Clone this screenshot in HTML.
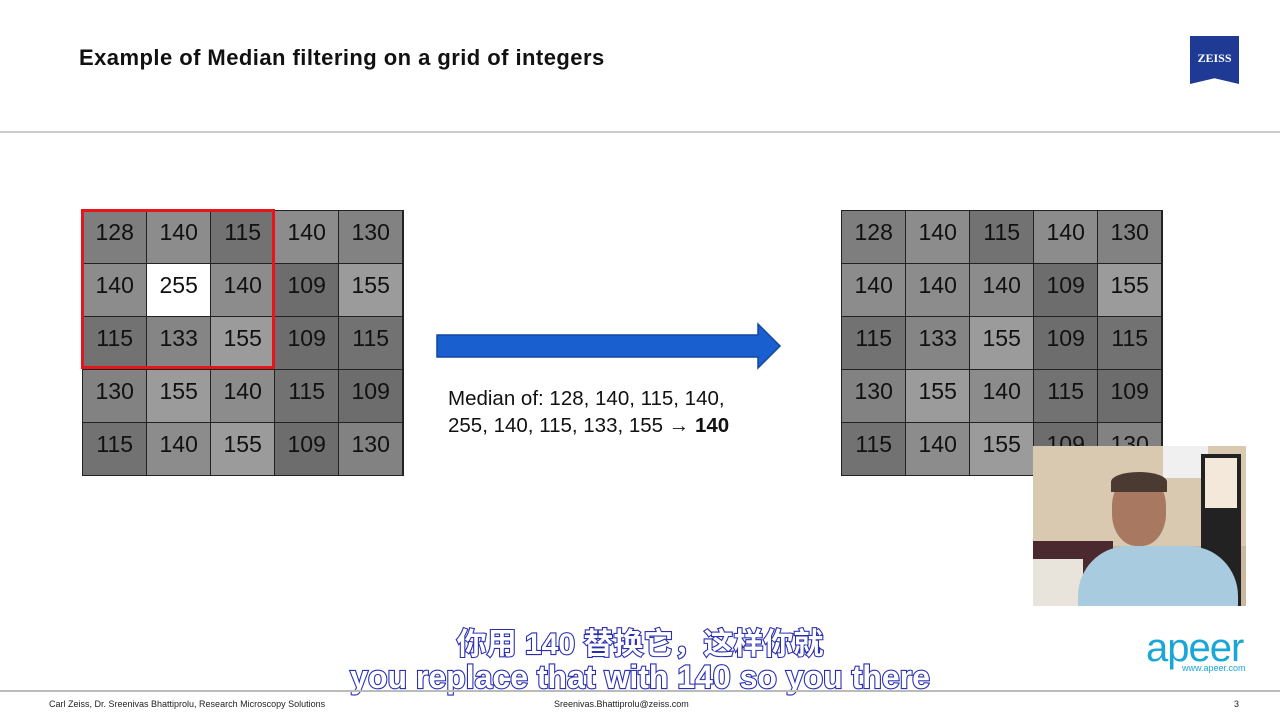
<!DOCTYPE html>
<html><head><meta charset="utf-8"><style>
body{margin:0;width:1280px;height:720px;background:#fff;position:relative;overflow:hidden;font-family:"Liberation Sans",sans-serif}
.a{position:absolute}
.g{position:absolute;width:322px;height:266px;background:#222;border:1px solid #222;box-sizing:border-box}
.g div{position:absolute;width:63.4px;height:52.2px;display:flex;align-items:center;justify-content:center;font-size:23px;color:#111;padding-bottom:10px;box-sizing:border-box}
.sub{position:absolute;left:0;width:1280px;text-align:center;color:#fff;font-weight:bold;font-family:"Liberation Sans","Noto Sans CJK SC",sans-serif;-webkit-text-stroke:2.2px #2a2fb0;paint-order:stroke fill}
</style></head><body>
<div class="a" style="left:79px;top:45px;font-size:22px;font-weight:bold;color:#111;letter-spacing:0.45px">Example of Median filtering on a grid of integers</div>
<div class="a" style="left:1190px;top:36px;width:49px;height:48px;background:#1e3a95;clip-path:polygon(0 0,100% 0,100% 100%,50% 88%,0 100%)"></div>
<div class="a" style="left:1190px;top:51px;width:49px;text-align:center;color:#fff;font-weight:bold;font-size:12px;font-family:'Liberation Serif',serif">ZEISS</div>
<div class="a" style="left:0;top:131px;width:1280px;height:2px;background:#ccc"></div>

<div id="g1" class="g" style="left:82px;top:210px"></div>
<div class="a" style="left:81px;top:209px;width:188px;height:154px;border:3px solid #e8141b"></div>
<div id="g2" class="g" style="left:841px;top:210px"></div>
<script>
const cols={109:'#6d6d6d',115:'#727272',128:'#7e7e7e',130:'#828282',133:'#858585',140:'#8c8c8c',155:'#9b9b9b',255:'#ffffff'};
const a=[[128,140,115,140,130],[140,255,140,109,155],[115,133,155,109,115],[130,155,140,115,109],[115,140,155,109,130]];
function fill(id,d){const g=document.getElementById(id);let h='';for(let r=0;r<5;r++)for(let c=0;c<5;c++){h+=`<div style="left:${c*64}px;top:${r*53}px;background:${cols[d[r][c]]}">${d[r][c]}</div>`;}g.innerHTML=h;}
fill('g1',a);const b=a.map(r=>r.slice());b[1][1]=140;fill('g2',b);
</script>

<svg class="a" style="left:436px;top:322px" width="346" height="48"><polygon points="1,13 322,13 322,2 344,24 322,46 322,35 1,35" fill="#1a5fd0" stroke="#1446a0" stroke-width="1.5"/></svg>
<div class="a" style="left:448px;top:385px;font-size:20.5px;line-height:27px;color:#111">Median of: 128, 140, 115, 140,<br>255, 140, 115, 133, 155 &#8594; <b>140</b></div>

<div class="a" style="left:1033px;top:446px;width:213px;height:160px;background:#c9b9a0;overflow:hidden">
<div class="a" style="left:0;top:0;width:213px;height:100px;background:#d8c9b0"></div>
<div class="a" style="left:130px;top:0;width:45px;height:32px;background:#f0f0f0"></div>
<div class="a" style="left:168px;top:8px;width:40px;height:152px;background:#222"></div>
<div class="a" style="left:172px;top:12px;width:32px;height:50px;background:#f3e8da"></div>
<div class="a" style="left:0;top:95px;width:80px;height:65px;background:#4a2a2e"></div>
<div class="a" style="left:0;top:113px;width:50px;height:47px;background:#e8e4dc"></div>
<div class="a" style="left:45px;top:100px;width:160px;height:60px;background:#a9cbe0;border-radius:50px 50px 0 0"></div>
<div class="a" style="left:79px;top:28px;width:54px;height:72px;background:#a87860;border-radius:45%"></div>
<div class="a" style="left:78px;top:26px;width:56px;height:20px;background:#4a3a32;border-radius:50% 50% 0 0"></div>
</div>

<div class="sub" style="top:619px;font-size:30px">你用 140 替换它，这样你就</div>
<div class="sub" style="top:659px;font-size:32px">you replace that with 140 so you there</div>

<div class="a" style="left:1146px;top:626px;font-size:40px;color:#1aa6d6;letter-spacing:-1px">apeer</div>
<div class="a" style="left:1182px;top:663px;font-size:9px;color:#1aa6d6">www.apeer.com</div>

<div class="a" style="left:0;top:690px;width:1280px;height:2px;background:#bbb"></div>
<div class="a" style="left:49px;top:699px;font-size:9px;color:#222">Carl Zeiss, Dr. Sreenivas Bhattiprolu, Research Microscopy Solutions</div>
<div class="a" style="left:554px;top:699px;font-size:9px;color:#222">Sreenivas.Bhattiprolu@zeiss.com</div>
<div class="a" style="left:1234px;top:699px;font-size:9px;color:#222">3</div>
</body></html>
